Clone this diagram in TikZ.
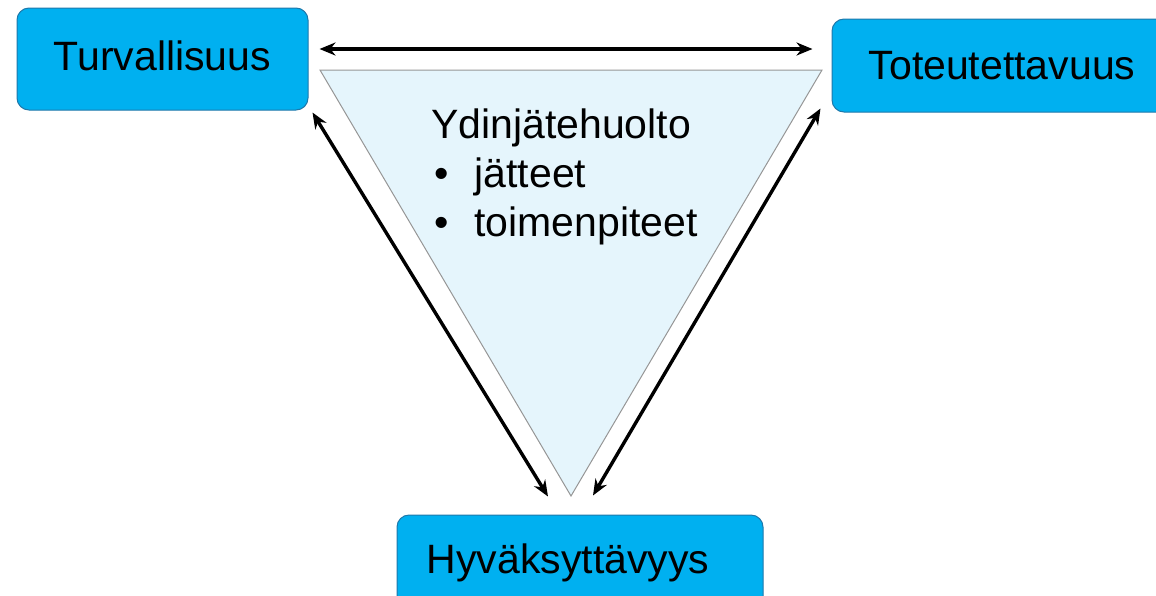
\documentclass[tikz,border=0pt]{standalone}
\usepackage{fontspec}
\setmainfont{Liberation Sans}
\usetikzlibrary{arrows.meta,calc}
\definecolor{boxfill}{RGB}{0,176,240}
\definecolor{boxline}{RGB}{30,120,170}
\definecolor{trifill}{RGB}{229,245,252}
\definecolor{triline}{RGB}{150,150,150}
\tikzset{
  kbox/.style={draw=boxline, line width=1pt, fill=boxfill, rounded corners=12pt, inner sep=0pt,
    font=\fontsize{41}{41}\selectfont, text=black},
  dblarrow/.style={{Stealth[length=16pt,width=13pt]}-{Stealth[length=16pt,width=13pt]}, line width=3.4pt, black},
  tritext/.style={font=\fontsize{41}{49}\selectfont, align=left, anchor=north west, inner sep=0pt}
}
\begin{document}
\begin{tikzpicture}[x=1pt,y=-1pt]
\useasboundingbox (0,0) rectangle (1156,595);
\clip (0,0) rectangle (1156,595);
% boxes
\node[kbox, minimum width=291pt, minimum height=102pt] (tur) at (162.5,59) {\raisebox{6pt}{Turvallisuus}};
\node[kbox, minimum width=340pt, minimum height=93pt] (tot) at (1002,65.5) {Toteutettavuus};
\node[kbox, minimum width=366pt, minimum height=100pt] (hyv) at (580,565) {\hspace*{-24pt}\raisebox{13pt}{Hyväksyttävyys}};
% triangle
\coordinate (tl) at (320,70);
\coordinate (tr) at (822,70);
\coordinate (ap) at (571,496);
\draw[triline, fill=trifill, line width=1pt] (tl) -- (tr) -- (ap) -- cycle;
\node[tritext] (txt) at (431,109) {Ydinjätehuolto\\[0pt]%
\hspace*{3pt}\textbullet\hspace{26pt}jätteet\\
\hspace*{3pt}\textbullet\hspace{26pt}toimenpiteet};
% arrow end points
\coordinate (a1) at ($(tur.east)+(11,-10)$);
\coordinate (a2) at ($(tot.west)+(-19,-16.5)$);
\coordinate (b1) at ($(tur.south east)+(4,2)$);
\coordinate (b2) at ($(hyv.north)+(-32,-18)$);
\coordinate (c1) at ($(tot.south west)+(-11,-4)$);
\coordinate (c2) at ($(hyv.north)+(13,-19)$);
\draw[dblarrow] (a1) -- (a2);
\draw[dblarrow] (b1) -- (b2);
\draw[dblarrow] (c1) -- (c2);
\end{tikzpicture}
\end{document}
